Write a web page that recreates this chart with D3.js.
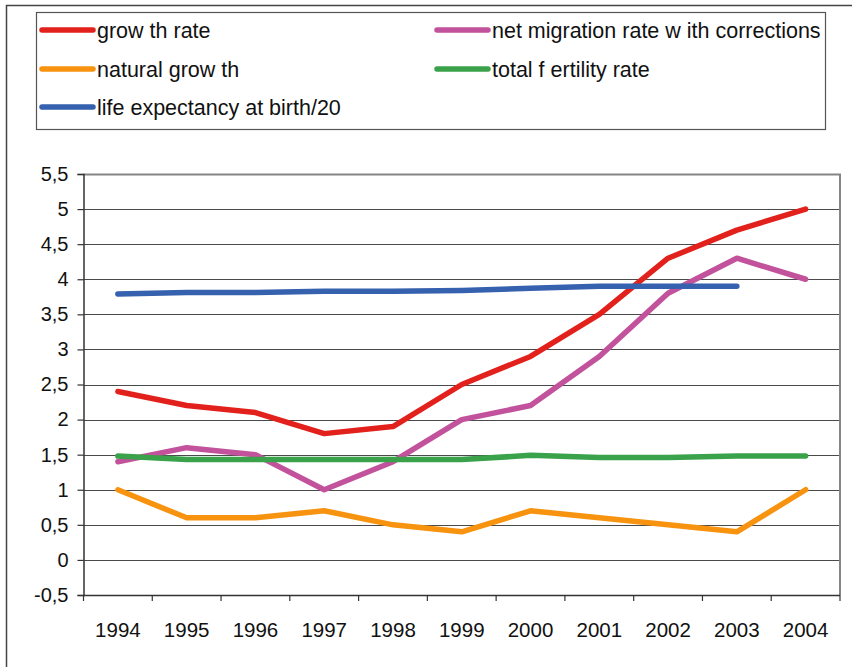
<!DOCTYPE html>
<html>
<head>
<meta charset="utf-8">
<script src="https://cdn.jsdelivr.net/npm/d3@7"></script>
<style>
  html, body { margin: 0; padding: 0; background: #fff; }
  svg { display: block; font-family: "Liberation Sans", Arial, sans-serif; }
</style>
</head>
<body>
<svg id="chart" width="852" height="667"></svg>
<script>
const years = ["1994","1995","1996","1997","1998","1999","2000","2001","2002","2003","2004"];
const growthRate = [2.4, 2.2, 2.1, 1.8, 1.9, 2.5, 2.9, 3.5, 4.3, 4.7, 5.0];
const netMigration = [1.4, 1.6, 1.5, 1.0, 1.4, 2.0, 2.2, 2.9, 3.8, 4.3, 4.0];
const naturalGrowth = [1.0, 0.6, 0.6, 0.7, 0.5, 0.4, 0.7, 0.6, 0.5, 0.4, 1.0];
const fertility = [1.48, 1.43, 1.43, 1.43, 1.43, 1.43, 1.49, 1.46, 1.46, 1.48, 1.48];
const lifeExp20 = [3.79, 3.81, 3.81, 3.83, 3.83, 3.84, 3.87, 3.9, 3.9, 3.9, null];
const yTicks = [-0.5, 0, 0.5, 1, 1.5, 2, 2.5, 3, 3.5, 4, 4.5, 5, 5.5];

const series = [
  { name: "grow th rate", values: growthRate, color: "#e2211c" },
  { name: "net migration rate w ith corrections", values: netMigration, color: "#c1529b" },
  { name: "natural grow th", values: naturalGrowth, color: "#f7930f" },
  { name: "total f ertility rate", values: fertility, color: "#3aa24a" },
  { name: "life expectancy at birth/20", values: lifeExp20, color: "#3561ae" }
];

const svg = d3.select("#chart");

// outer frame
svg.append("path").attr("d", "M6.5,667 L6.5,5.5 L852,5.5")
  .attr("fill", "none").attr("stroke", "#444").attr("stroke-width", 1.5);

// plot area
const pLeft = 83.5, pRight = 840, pTop = 174, pBottom = 595;
const x = d3.scaleBand().domain(years).range([pLeft, pRight]);
const y = d3.scaleLinear().domain([-0.5, 5.5]).range([pBottom, pTop]);

const g = svg.append("g");

// gridlines
g.selectAll("line.grid").data(yTicks.filter(v => v > -0.5 && v < 5.5)).enter()
  .append("line").attr("class", "grid")
  .attr("x1", pLeft).attr("x2", pRight)
  .attr("y1", d => Math.round(y(d)) + 0.5).attr("y2", d => Math.round(y(d)) + 0.5)
  .attr("stroke", "#4a4a4a").attr("stroke-width", 1.2);

// plot border (top & right)
g.append("path")
  .attr("d", `M${pLeft},${Math.round(y(5.5)) + 0.5} L${pRight},${Math.round(y(5.5)) + 0.5} L${pRight},${pBottom}`)
  .attr("fill", "none").attr("stroke", "#858585").attr("stroke-width", 2);

// y axis
const yAxis = d3.axisLeft(y).tickValues(yTicks).tickSize(6).tickPadding(9)
  .tickFormat(d => String(d).replace(".", ","));
const ya = g.append("g").attr("transform", `translate(${pLeft},0)`).call(yAxis);
ya.select(".domain").attr("stroke", "#333").attr("stroke-width", 1.5);
ya.selectAll(".tick line").attr("stroke", "#333").attr("stroke-width", 1.2);
ya.selectAll(".tick text").attr("font-size", 20).attr("fill", "#111")
  .attr("font-family", "Liberation Sans, Arial, sans-serif");

// x axis
const tickPos = years.map(d => x(d)).concat([pRight]);
const xg = g.append("g");
xg.append("line").attr("x1", pLeft).attr("x2", pRight)
  .attr("y1", pBottom + 0.5).attr("y2", pBottom + 0.5)
  .attr("stroke", "#333").attr("stroke-width", 1.5);
xg.selectAll("line.xt").data(tickPos).enter().append("line").attr("class", "xt")
  .attr("x1", d => d).attr("x2", d => d)
  .attr("y1", pBottom).attr("y2", pBottom + 6)
  .attr("stroke", "#333").attr("stroke-width", 1.2);
xg.selectAll("text").data(years).enter().append("text")
  .attr("x", d => x(d) + x.bandwidth() / 2)
  .attr("y", 637)
  .attr("text-anchor", "middle")
  .attr("font-size", 20.5).attr("fill", "#111")
  .text(d => d);

// lines
const line = d3.line()
  .defined(d => d.v !== null)
  .x(d => x(d.year) + x.bandwidth() / 2)
  .y(d => y(d.v));

series.forEach(s => {
  const pts = years.map((yr, i) => ({ year: yr, v: s.values[i] }));
  g.append("path").datum(pts)
    .attr("d", line)
    .attr("fill", "none")
    .attr("stroke", s.color)
    .attr("stroke-width", 5.5)
    .attr("stroke-linecap", "round")
    .attr("stroke-linejoin", "round");
});

// legend
const lg = svg.append("g");
lg.append("rect").attr("x", 36.5).attr("y", 12.5).attr("width", 789).attr("height", 117)
  .attr("fill", "none").attr("stroke", "#555").attr("stroke-width", 1.2);
const legendPos = [
  { x: 42, y: 30 }, { x: 437, y: 30 },
  { x: 42, y: 69 }, { x: 437, y: 69 },
  { x: 42, y: 107 }
];
series.forEach((s, i) => {
  const p = legendPos[i];
  lg.append("line").attr("x1", p.x).attr("x2", p.x + 51)
    .attr("y1", p.y).attr("y2", p.y)
    .attr("stroke", s.color).attr("stroke-width", 5.5).attr("stroke-linecap", "round");
  lg.append("text").attr("x", p.x + 55).attr("y", p.y + 7.5)
    .attr("font-size", 21.5).attr("fill", "#111")
    .text(s.name);
});
</script>
</body>
</html>
